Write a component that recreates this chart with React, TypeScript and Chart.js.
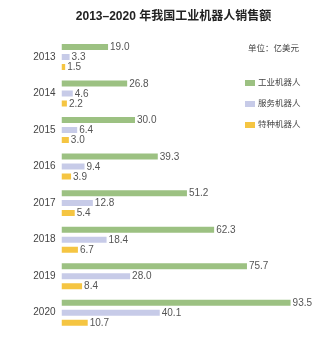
import React, { useEffect, useRef } from "react";
import { Chart, registerables } from "chart.js";

Chart.register(...registerables);

const years = ["2013", "2014", "2015", "2016", "2017", "2018", "2019", "2020"];
const industrial = [19.0, 26.8, 30.0, 39.3, 51.2, 62.3, 75.7, 93.5];
const service = [3.3, 4.6, 6.4, 9.4, 12.8, 18.4, 28.0, 40.1];
const special = [1.5, 2.2, 3.0, 3.9, 5.4, 6.7, 8.4, 10.7];
const seriesNames = ["工业机器人", "服务机器人", "特种机器人"];
const seriesColors = ["#9cc182", "#c7cbe8", "#f5c542"];
const titleText = "2013–2020 年我国工业机器人销售额";
const unitText = "单位：亿美元";

const FONT = '"Liberation Sans", "Noto Sans CJK SC", sans-serif';

const valueLabels = {
  id: "valueLabels",
  afterDatasetsDraw(chart: any) {
    const ctx = chart.ctx;
    ctx.save();
    ctx.font = `10px ${FONT}`;
    ctx.fillStyle = "#555555";
    ctx.textAlign = "left";
    ctx.textBaseline = "middle";
    chart.data.datasets.forEach((ds: any, i: number) => {
      const meta = chart.getDatasetMeta(i);
      meta.data.forEach((el: any, j: number) => {
        ctx.fillText(Number(ds.data[j]).toFixed(1), el.x + 2, el.y + 0.5);
      });
    });
    ctx.restore();
  },
};

const sideLegend = {
  id: "sideLegend",
  afterDraw(chart: any) {
    const ctx = chart.ctx;
    ctx.save();
    ctx.font = `8.5px ${FONT}`;
    ctx.textBaseline = "middle";
    ctx.textAlign = "left";
    ctx.fillStyle = "#444444";
    ctx.fillText(unitText, 248, 49);
    chart.data.datasets.forEach((ds: any, i: number) => {
      const y = 83 + i * 21;
      ctx.fillStyle = ds.backgroundColor;
      ctx.fillRect(245, y - 3, 10, 6);
      ctx.fillStyle = "#444444";
      ctx.fillText(ds.label, 258, y);
    });
    ctx.restore();
  },
};

const whiteBg = {
  id: "whiteBg",
  beforeDraw(chart: any) {
    const ctx = chart.ctx;
    ctx.save();
    ctx.fillStyle = "#ffffff";
    ctx.fillRect(0, 0, chart.width, chart.height);
    ctx.restore();
  },
};

export default function App() {
  const ref = useRef<HTMLCanvasElement>(null);
  useEffect(() => {
    if (!ref.current) return;
    const chart = new Chart(ref.current, {
      type: "bar",
      data: {
        labels: years,
        datasets: [
          { label: seriesNames[0], data: industrial, backgroundColor: seriesColors[0] },
          { label: seriesNames[1], data: service, backgroundColor: seriesColors[1] },
          { label: seriesNames[2], data: special, backgroundColor: seriesColors[2] },
        ],
      },
      options: {
        indexAxis: "y",
        animation: false,
        responsive: false,
        maintainAspectRatio: false,
        datasets: { bar: { categoryPercentage: 0.82, barPercentage: 0.6 } },
        layout: { padding: { left: 16, right: 0, top: 0, bottom: 7 } },
        plugins: {
          legend: { display: false },
          tooltip: { enabled: false },
          title: {
            display: true,
            text: titleText,
            color: "#222222",
            font: { family: FONT, size: 12, weight: "bold" },
            padding: { top: 9.8, bottom: 14.5 },
          },
        },
        scales: {
          x: { display: false, min: 0, max: 110 },
          y: {
            grid: { display: false, drawTicks: false },
            border: { display: false },
            ticks: {
              color: "#444444",
              font: { family: FONT, size: 10 },
              padding: 6,
            },
            afterFit: (scale: any) => {
              scale.width = 45.5;
            },
          },
        },
      },
      plugins: [whiteBg, valueLabels, sideLegend],
    });
    return () => chart.destroy();
  }, []);
  return (
    <div style={{ position: "fixed", left: 0, top: 0, width: 331, height: 343, background: "#fff" }}>
      <canvas ref={ref} width={331} height={343} style={{ display: "block" }} />
    </div>
  );
}
